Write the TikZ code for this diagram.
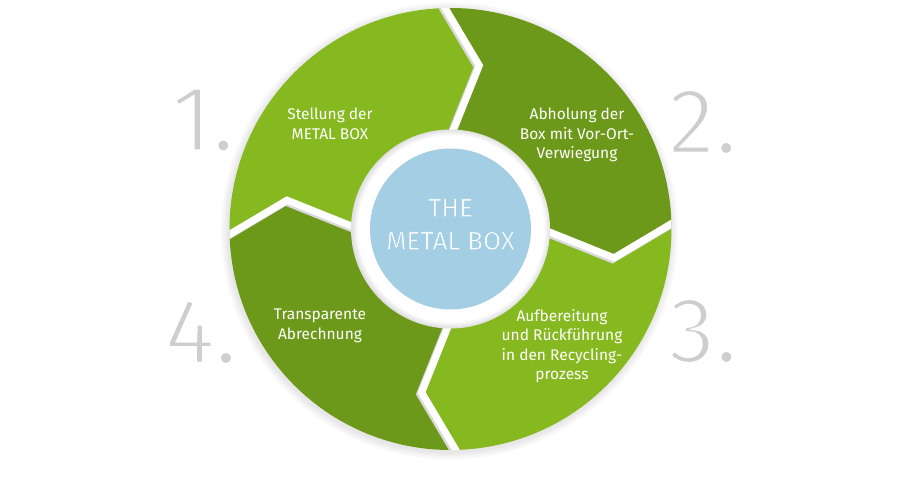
\documentclass[tikz,border=0pt]{standalone}
\usepackage{fontspec}
\setmainfont{Fira Sans}
\usetikzlibrary{calc}
\definecolor{lgreen}{RGB}{134,184,31}
\definecolor{dgreen}{RGB}{108,153,25}
\definecolor{lblue}{RGB}{163,206,227}
\definecolor{numgray}{RGB}{206,206,206}
\newcommand\thinnum[1]{\special{pdf:literal direct 2 Tr 3.2 w 1 1 1 RG}#1\special{pdf:literal direct 0 Tr}}
\newcommand\thinblue[1]{\special{pdf:literal direct 2 Tr 0.7 w 0.639 0.808 0.890 RG}#1\special{pdf:literal direct 0 Tr}}
\begin{document}
\begin{tikzpicture}[x=1pt,y=1pt,
  seglabel/.style={text=white, font=\fontsize{15.5}{19.5}\selectfont, align=center, inner sep=0pt},
  numlabel/.style={text=numgray, font=\fontsize{94}{94}\selectfont, inner sep=0pt},
  gapline/.style={white, line width=7pt, line join=miter},
  gapshadow/.style={black!15, line width=7.5pt, line join=miter}]
\useasboundingbox (0,0) rectangle (900,480);
\fill[white] (0,0) rectangle (900,480);
\def\R{221}\def\r{99.5}\def\A{166}
\begin{scope}[shift={(450.5,251)}]
  \coordinate (C) at (0,0);
  % outer soft shadow
  \foreach \d in {1,...,8} \fill[black,opacity=0.012] (-1,-2) circle[radius=\R+\d];
  % segments
  \foreach \t/\c in {180/lgreen,90/dgreen,0/lgreen,-90/dgreen} {
    \fill[\c] (\t:\r) -- (\t-10:\A) -- (\t+2.5:\R)
      arc[start angle=\t+2.5, end angle=\t-87.5, radius=\R]
      -- (\t-100:\A) -- (\t-90:\r) -- (0,0) -- cycle;
  }
  % separators
  \begin{scope}
    \clip (0,0) circle[radius=\R];
    \foreach \t in {180,90,0,-90} {
      \draw[gapshadow, shift={(-1.6,-1.6)}] (\t+2.5:\R+8) -- (\t-10:\A) -- (\t:\r-8);
      \draw[gapline] (\t+2.5:\R+8) -- (\t-10:\A) -- (\t:\r-8);
    }
  \end{scope}
  % inner white ring with soft shadow
  \fill[white] (0,0) circle[radius=\r];
  \begin{scope}
    \clip (0,0) circle[radius=\r];
    \foreach \w in {2,4,6,8,10,12} \draw[black,opacity=0.02,line width=\w pt] (0.8,0) circle[radius=\r];
  \end{scope}
  \fill[lblue] (0,0) circle[radius=80.5];
  \node[text=white, font=\fontsize{26}{33}\selectfont, align=center, inner sep=0pt] (center) at (0,4.5) {\thinblue{THE}\\\thinblue{METAL BOX}};
\end{scope}
% segment labels
\node[seglabel] (s1) at (330,356) {Stellung der\\METAL BOX};
\node[seglabel] (s2) at (577,345) {Abholung der\\Box mit Vor-Ort-\\Verwiegung};
\node[seglabel] (s3) at (562,134) {Aufbereitung\\und Rückführung\\in den Recycling-\\prozess};
\node[seglabel] (s4) at (320,154) {Transparente\\Abrechnung};
% step numbers
\node[numlabel] (n1) at (203,360) {\thinnum{1.}};
\node[numlabel] (n2) at (703,358) {\thinnum{2.}};
\node[numlabel] (n3) at (703,149) {\thinnum{3.}};
\node[numlabel] (n4) at (201,148) {\thinnum{4.}};
\end{tikzpicture}
\end{document}
